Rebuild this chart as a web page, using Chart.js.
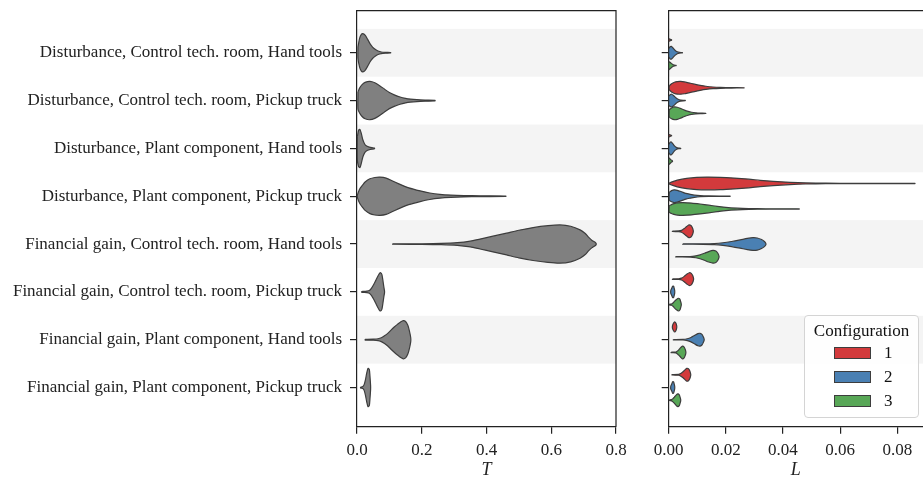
<!DOCTYPE html>
<html>
<head>
<meta charset="utf-8">
<script src="https://cdn.jsdelivr.net/npm/chart.js@4.4.1/dist/chart.umd.min.js"></script>
<style>
  html, body { margin: 0; padding: 0; background: #fff; overflow: hidden; }
  #wrap { position: relative; width: 923px; height: 480px; overflow: hidden; }
  #left { position: absolute; left: 0; top: 0; }
  #right { position: absolute; left: 640px; top: 0; }
  #legend {
    position: absolute; left: 804px; top: 315px; width: 113px; height: 101px;
    border: 1px solid #d4d4d4; border-radius: 4px; background: rgba(255,255,255,0.85);
    font-family: 'Liberation Serif', serif; font-size: 17px; color: #111;
  }
  #legend .title { position: absolute; top: 5px; left: 0; width: 100%; text-align: center; line-height: 20px; }
  #legend .row { position: absolute; left: 29px; height: 20px; line-height: 20px; }
  #legend .patch { position: absolute; left: 0; top: 4px; width: 35px; height: 10px; border: 1px solid #3d3d3d; }
  #legend .lab { position: absolute; left: 50px; top: 0; }
</style>
</head>
<body>
<div id="wrap">
  <canvas id="left" width="640" height="480"></canvas>
  <canvas id="right" width="283" height="480"></canvas>
  <div id="legend">
    <div class="title">Configuration</div>
  </div>
</div>
<script>
const categories = [
  'Disturbance, Control tech. room, Hand tools',
  'Disturbance, Control tech. room, Pickup truck',
  'Disturbance, Plant component, Hand tools',
  'Disturbance, Plant component, Pickup truck',
  'Financial gain, Control tech. room, Hand tools',
  'Financial gain, Control tech. room, Pickup truck',
  'Financial gain, Plant component, Hand tools',
  'Financial gain, Plant component, Pickup truck'
];

// violin outlines: [value, relative density width]
const tViolins = [
  [[0.003,0.3],[0.008,0.75],[0.013,0.95],[0.018,1],[0.025,0.92],[0.033,0.7],[0.040,0.48],[0.048,0.3],[0.056,0.18],[0.065,0.09],[0.075,0.04],[0.090,0.02],[0.104,0.01]],
  [[0.003,0.45],[0.008,0.65],[0.015,0.82],[0.025,0.95],[0.040,1],[0.055,0.93],[0.070,0.78],[0.085,0.6],[0.100,0.42],[0.115,0.3],[0.133,0.19],[0.150,0.12],[0.165,0.08],[0.185,0.05],[0.21,0.03],[0.241,0.015]],
  [[0.001,0.6],[0.005,0.95],[0.009,1],[0.013,0.8],[0.018,0.45],[0.024,0.22],[0.030,0.12],[0.038,0.07],[0.046,0.04],[0.054,0.02]],
  [[0.001,0.05],[0.005,0.25],[0.010,0.42],[0.018,0.6],[0.025,0.74],[0.040,0.91],[0.055,0.98],[0.071,1],[0.090,0.95],[0.110,0.8],[0.133,0.62],[0.160,0.44],[0.195,0.28],[0.225,0.17],[0.256,0.1],[0.29,0.06],[0.33,0.035],[0.38,0.02],[0.46,0.01]],
  [[0.110,0.01],[0.20,0.015],[0.26,0.03],[0.31,0.07],[0.35,0.15],[0.38,0.26],[0.42,0.41],[0.462,0.57],[0.50,0.72],[0.544,0.86],[0.59,0.96],[0.627,1],[0.66,0.93],[0.689,0.74],[0.705,0.55],[0.715,0.36],[0.725,0.2],[0.738,0.05]],
  [[0.014,0.02],[0.030,0.04],[0.038,0.07],[0.045,0.2],[0.052,0.4],[0.058,0.6],[0.064,0.8],[0.069,0.95],[0.073,1],[0.077,0.9],[0.080,0.6],[0.083,0.25],[0.085,0.05]],
  [[0.025,0.02],[0.050,0.03],[0.065,0.05],[0.075,0.1],[0.085,0.2],[0.095,0.33],[0.105,0.5],[0.115,0.66],[0.125,0.8],[0.135,0.93],[0.143,1],[0.150,0.95],[0.157,0.75],[0.162,0.45],[0.166,0.1]],
  [[0.011,0.02],[0.018,0.05],[0.022,0.15],[0.026,0.4],[0.030,0.75],[0.034,1],[0.038,0.95],[0.040,0.6],[0.042,0.1]]
];

const lConfig1 = [
  [[0,0.2],[0.0005,0.12],[0.001,0.03]],
  [[0.0002,0.3],[0.001,0.65],[0.002,0.88],[0.003,0.98],[0.0042,1],[0.0055,0.93],[0.007,0.78],[0.009,0.58],[0.011,0.4],[0.013,0.25],[0.0155,0.13],[0.018,0.07],[0.022,0.03],[0.0264,0.015]],
  [[0,0.2],[0.0005,0.12],[0.001,0.03]],
  [[0.0002,0.08],[0.0015,0.3],[0.003,0.52],[0.0063,0.8],[0.0098,0.95],[0.0133,1],[0.018,0.97],[0.023,0.85],[0.028,0.68],[0.032,0.5],[0.0366,0.33],[0.0425,0.17],[0.048,0.08],[0.055,0.04],[0.065,0.02],[0.0862,0.01]],
  [[0.0013,0.03],[0.0035,0.06],[0.0045,0.15],[0.0055,0.45],[0.0063,0.75],[0.0071,1],[0.0078,0.9],[0.0083,0.55],[0.0086,0.1]],
  [[0.0013,0.03],[0.0035,0.06],[0.0045,0.15],[0.0055,0.45],[0.0063,0.75],[0.0072,1],[0.0079,0.9],[0.0084,0.55],[0.0087,0.1]],
  [[0.0013,0.2],[0.0017,0.6],[0.0021,0.8],[0.0025,0.6],[0.0028,0.15]],
  [[0.0011,0.03],[0.0035,0.07],[0.004,0.15],[0.0048,0.4],[0.0056,0.72],[0.0063,1],[0.0069,0.95],[0.0074,0.6],[0.0077,0.1]]
];
const lConfig2 = [
  [[0,0.6],[0.0005,0.95],[0.0009,1],[0.0015,0.75],[0.0022,0.4],[0.003,0.15],[0.0038,0.05],[0.0048,0.02]],
  [[0,0.7],[0.0005,0.92],[0.001,1],[0.0017,0.8],[0.0025,0.45],[0.0033,0.2],[0.0042,0.08],[0.0058,0.02]],
  [[0,0.6],[0.0005,0.95],[0.0009,1],[0.0015,0.7],[0.0021,0.35],[0.0028,0.12],[0.0035,0.04],[0.0042,0.02]],
  [[0.0002,0.6],[0.001,0.88],[0.002,1],[0.003,0.93],[0.0045,0.7],[0.006,0.45],[0.0075,0.3],[0.009,0.17],[0.011,0.08],[0.014,0.04],[0.0215,0.015]],
  [[0.0049,0.02],[0.012,0.04],[0.016,0.08],[0.019,0.2],[0.022,0.4],[0.025,0.65],[0.0275,0.88],[0.0295,1],[0.031,0.95],[0.0325,0.7],[0.0335,0.4],[0.034,0.1]],
  [[0.0007,0.2],[0.0011,0.6],[0.0014,0.9],[0.0017,0.9],[0.0019,0.6],[0.0021,0.2]],
  [[0.0016,0.02],[0.005,0.05],[0.0065,0.15],[0.0078,0.35],[0.009,0.65],[0.0102,0.95],[0.011,1],[0.0117,0.8],[0.0121,0.45],[0.0124,0.1]],
  [[0.0007,0.2],[0.0011,0.6],[0.0014,0.9],[0.0017,0.9],[0.0019,0.6],[0.0021,0.2]]
];
const lConfig3 = [
  [[0,0.65],[0.0005,0.5],[0.001,0.3],[0.0016,0.12],[0.002,0.05],[0.0026,0.02]],
  [[0.0002,0.55],[0.001,0.85],[0.002,1],[0.003,0.95],[0.0042,0.75],[0.0055,0.5],[0.0068,0.3],[0.008,0.17],[0.0095,0.08],[0.011,0.04],[0.013,0.015]],
  [[0,0.5],[0.0004,0.4],[0.0008,0.2],[0.0013,0.05]],
  [[0.0002,0.5],[0.0015,0.8],[0.003,0.95],[0.005,1],[0.008,0.93],[0.011,0.78],[0.014,0.6],[0.017,0.42],[0.02,0.25],[0.024,0.13],[0.028,0.07],[0.034,0.03],[0.0457,0.01]],
  [[0.0024,0.02],[0.0075,0.05],[0.0095,0.15],[0.011,0.3],[0.0125,0.55],[0.014,0.82],[0.0155,1],[0.0165,0.9],[0.0172,0.55],[0.0176,0.1]],
  [[0.0002,0.05],[0.001,0.1],[0.0015,0.25],[0.002,0.5],[0.0027,0.8],[0.0034,1],[0.0039,0.85],[0.0042,0.45],[0.0044,0.1]],
  [[0.0008,0.03],[0.0025,0.06],[0.003,0.2],[0.0036,0.45],[0.0042,0.75],[0.0048,1],[0.0054,0.85],[0.0058,0.45],[0.006,0.1]],
  [[0.0002,0.05],[0.001,0.1],[0.0015,0.25],[0.002,0.5],[0.0026,0.8],[0.0032,1],[0.0037,0.85],[0.004,0.45],[0.0042,0.1]]
];
const configLabels = ['1', '2', '3'];

const FONT = 'Liberation Serif';
const INK = '#222';
const EDGE = '#3d3d3d';
const configColors = ['#d33a3c', '#4a80b3', '#58a757'];
const band = '#f4f4f4';

// closed outline: top edge forward, bottom edge back
function violinPath(profile, center, half) {
  const top = profile.map(([v, w]) => ({ x: v, y: center - w * half }));
  const bottom = profile.slice().reverse().map(([v, w]) => ({ x: v, y: center + w * half }));
  return top.concat(bottom, [top[0]]);
}

function violinSet(points, color) {
  return {
    type: 'line', data: points, showLine: true, fill: 'shape',
    backgroundColor: color, borderColor: EDGE, borderWidth: 1.2,
    pointRadius: 0, tension: 0.25
  };
}

const bandsPlugin = {
  id: 'bands',
  beforeDraw(chart) {
    const { ctx, chartArea: a, scales: { y } } = chart;
    ctx.save();
    ctx.fillStyle = band;
    categories.forEach((c, i) => {
      if (i % 2) return;
      const y0 = y.getPixelForValue(i - 0.5), y1 = y.getPixelForValue(i + 0.5);
      ctx.fillRect(a.left, Math.min(y0, y1), a.right - a.left, Math.abs(y1 - y0));
    });
    ctx.restore();
  }
};

const framePlugin = {
  id: 'frame',
  afterDraw(chart, args, opts) {
    const { ctx, chartArea: a } = chart;
    ctx.save();
    ctx.strokeStyle = INK;
    ctx.lineWidth = 1.2;
    ctx.beginPath();
    ctx.moveTo(a.left, a.top);
    ctx.lineTo(a.right, a.top);
    if (opts.right) ctx.lineTo(a.right, a.bottom);
    ctx.stroke();
    ctx.restore();
  }
};

function axes(xOpts, title, showLabels, yWidth) {
  return {
    x: Object.assign({
      type: 'linear',
      grid: { drawOnChartArea: false, drawTicks: true, tickLength: 7, color: INK, lineWidth: 1.2 },
      border: { display: true, color: INK, width: 1.2 },
      title: { display: true, text: title, color: INK, padding: { top: 0, bottom: 0 },
               font: { family: FONT, size: 18, style: 'italic', lineHeight: 1.05 } },
      afterFit: s => { s.height = 53.3; }
    }, xOpts),
    y: {
      type: 'linear', reverse: true, min: -0.88, max: 7.82,
      afterBuildTicks: s => { s.ticks = categories.map((c, i) => ({ value: i })); },
      ticks: { callback: v => showLabels ? categories[v] : '', color: INK,
               font: { family: FONT, size: 17 }, padding: 8 },
      grid: { drawOnChartArea: false, drawTicks: true, tickLength: 7, color: INK, lineWidth: 1.2 },
      border: { display: true, color: INK, width: 1.2 },
      afterFit: s => { s.width = yWidth; s.paddingTop = 0; s.paddingBottom = 0; }
    }
  };
}

const xTickFont = { family: FONT, size: 17 };

new Chart(document.getElementById('left'), {
  type: 'scatter',
  data: { datasets: tViolins.map((p, i) => violinSet(violinPath(p, i, 0.4), '#808080')) },
  options: {
    responsive: false, animation: false,
    layout: { padding: { left: 0, right: 24, top: 10.7, bottom: 0 } },
    plugins: { legend: { display: false }, tooltip: { enabled: false }, frame: { right: true } },
    scales: axes({ min: 0, max: 0.8, ticks: { includeBounds: false, stepSize: 0.2, callback: v => v.toFixed(1),
      color: INK, font: xTickFont, padding: 7 } }, 'T', true, 357)
  },
  plugins: [bandsPlugin, framePlugin]
});

const hueWidth = 0.8 / configLabels.length;
const rightSets = [];
[lConfig1, lConfig2, lConfig3].forEach((rows, c) => {
  const offset = (c - 1) * hueWidth;
  rows.forEach((p, i) => rightSets.push(violinSet(violinPath(p, i + offset, hueWidth / 2), configColors[c])));
});

new Chart(document.getElementById('right'), {
  type: 'scatter',
  data: { datasets: rightSets },
  options: {
    responsive: false, animation: false,
    layout: { padding: { left: 0, right: 0, top: 10.7, bottom: 0 } },
    plugins: { legend: { display: false }, tooltip: { enabled: false }, frame: { right: false } },
    scales: axes({ min: 0, max: 0.089, ticks: { includeBounds: false, stepSize: 0.02, callback: v => v.toFixed(2),
      color: INK, font: xTickFont, padding: 7 } }, 'L', false, 28.7)
  },
  plugins: [bandsPlugin, framePlugin]
});

// legend entries
const legendEl = document.getElementById('legend');
configLabels.forEach((lab, i) => {
  const row = document.createElement('div');
  row.className = 'row';
  row.style.top = (27 + i * 24) + 'px';
  row.innerHTML = `<div class="patch" style="background:${configColors[i]}"></div><div class="lab">${lab}</div>`;
  legendEl.appendChild(row);
});
</script>
</body>
</html>
